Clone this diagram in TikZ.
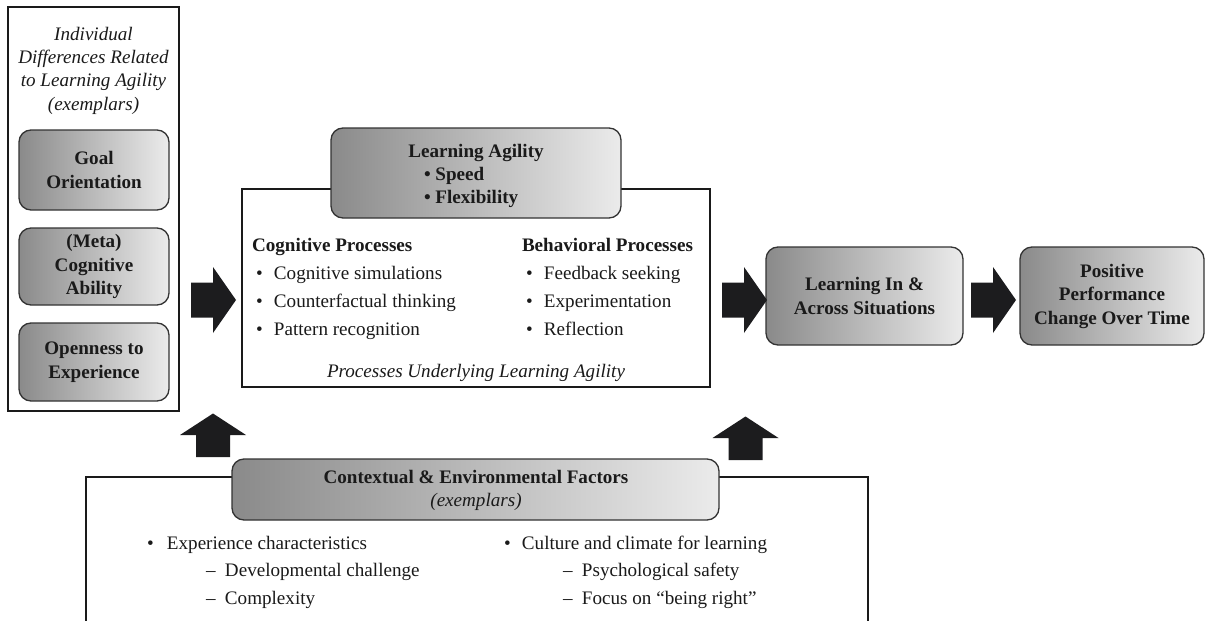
\documentclass[tikz,border=0pt]{standalone}
\usepackage{fontspec}
\setmainfont{Liberation Serif}
\newcommand\diagfont{\fontsize{19.1}{23.5}\selectfont}
\newcommand\listfont{\fontsize{19.1}{28}\selectfont}
\newcommand\ctxfont{\fontsize{19.1}{27.5}\selectfont}
\definecolor{inkc}{HTML}{1A1A1A}
\definecolor{framec}{HTML}{1A1A1A}
\definecolor{edgec}{HTML}{333333}
\definecolor{shadeL}{HTML}{8A8A8A}
\definecolor{shadeR}{HTML}{EBEBEB}
\definecolor{arrowc}{HTML}{1C1C1E}
\tikzset{
  every node/.style={inner sep=0pt, outer sep=0pt, text=inkc},
  frame/.style={draw=framec, line width=2pt, fill=white},
  gbox/.style={draw=edgec, line width=1.3pt, rounded corners=12pt,
    left color=shadeL, right color=shadeR, align=center,
    font=\diagfont\bfseries},
  rightblock/.pic={\fill[arrowc] (-22,-17.5) -- (0,-17.5) -- (0,-33)
    -- (23,0) -- (0,33) -- (0,17.5) -- (-22,17.5) -- cycle;},
  upblock/.pic={\fill[arrowc] (-17,22) -- (-17,0) -- (-33,0)
    -- (0,-21.5) -- (33,0) -- (17,0) -- (17,22) -- cycle;}
}
\begin{document}
\begin{tikzpicture}[x=1pt,y=-1pt]
\useasboundingbox (0,0) rectangle (1205,621);
\clip (0,0) rectangle (1205,621);

% individual differences column
\node[frame, minimum width=171pt, minimum height=404pt] (indiv) at (93.5,209) {};
\node[anchor=base, font=\diagfont\itshape] (indivtitle) at (93.5,40)
  {\begin{tabular}[t]{@{}c@{}}Individual\\ Differences Related\\ to Learning Agility\\ (exemplars)\end{tabular}};
\node[gbox, minimum width=150pt, minimum height=80pt] (goal) at (94,170) {Goal\\ Orientation};
\node[gbox, minimum width=150pt, minimum height=77pt] (meta) at (94,266.5) {(Meta)\\ Cognitive\\ Ability};
\node[gbox, minimum width=150pt, minimum height=78pt] (open) at (94,362) {Openness to\\ Experience};

% processes underlying learning agility
\node[frame, minimum width=468pt, minimum height=198pt] (proc) at (476,288) {};
\node[gbox, minimum width=290pt, minimum height=90pt] (agility) at (476,173) {};
\node[anchor=base, font=\diagfont\bfseries] (agilitytitle) at (476,157) {Learning Agility};
\node[anchor=base west, font=\diagfont\bfseries] (agilityitems) at (424,180)
  {\begin{tabular}[t]{@{}l@{}}\textbullet\ Speed\\ \textbullet\ Flexibility\end{tabular}};
\node[anchor=base west, font=\listfont] (cognitive) at (252,251)
  {\begin{tabular}[t]{@{}l@{}}\textbf{Cognitive Processes}\\
   \hspace*{4pt}\makebox[18pt][l]{\textbullet}Cognitive simulations\\
   \hspace*{4pt}\makebox[18pt][l]{\textbullet}Counterfactual thinking\\
   \hspace*{4pt}\makebox[18pt][l]{\textbullet}Pattern recognition\end{tabular}};
\node[anchor=base west, font=\listfont] (behavioral) at (522,251)
  {\begin{tabular}[t]{@{}l@{}}\textbf{Behavioral Processes}\\
   \hspace*{4pt}\makebox[18pt][l]{\textbullet}Feedback seeking\\
   \hspace*{4pt}\makebox[18pt][l]{\textbullet}Experimentation\\
   \hspace*{4pt}\makebox[18pt][l]{\textbullet}Reflection\end{tabular}};
\node[anchor=base, font=\diagfont\itshape] (procnote) at (476,377)
  {Processes Underlying Learning Agility};

% outcomes
\node[gbox, minimum width=197pt, minimum height=98pt] (learning) at (864.5,296) {Learning In \&\\ Across Situations};
\node[gbox, minimum width=184pt, minimum height=98pt] (perf) at (1112,296) {Positive\\ Performance\\ Change Over Time};

% contextual and environmental factors
\node[frame, minimum width=782pt, minimum height=250pt] (ctx) at (477,602) {};
\node[gbox, minimum width=487pt, minimum height=61pt] (ctxhead) at (475.5,489.5) {};
\node[anchor=base, font=\diagfont\bfseries] (ctxtitle) at (476,483) {Contextual \& Environmental Factors};
\node[anchor=base, font=\diagfont\itshape] (ctxsub) at (476,506) {(exemplars)};
\node[anchor=base west, font=\ctxfont] (experience) at (147,549)
  {\begin{tabular}[t]{@{}l@{}}\makebox[20pt][l]{\textbullet}Experience characteristics\\
   \hspace*{59pt}\makebox[19pt][l]{\textendash}Developmental challenge\\
   \hspace*{59pt}\makebox[19pt][l]{\textendash}Complexity\end{tabular}};
\node[anchor=base west, font=\ctxfont] (culture) at (504,549)
  {\begin{tabular}[t]{@{}l@{}}\makebox[18pt][l]{\textbullet}Culture and climate for learning\\
   \hspace*{59pt}\makebox[19pt][l]{\textendash}Psychological safety\\
   \hspace*{59pt}\makebox[19pt][l]{\textendash}Focus on ``being right''\end{tabular}};

% block arrows between the stages
\pic (indivtoproc) at (213,300) {rightblock};
\pic (proctolearn) at (744,300) {rightblock};
\pic (learntoperf) at (993,300) {rightblock};
\pic (ctxtoindiv) at (213,435) {upblock};
\pic (ctxtoproc) at (745.5,438) {upblock};
\end{tikzpicture}
\end{document}
